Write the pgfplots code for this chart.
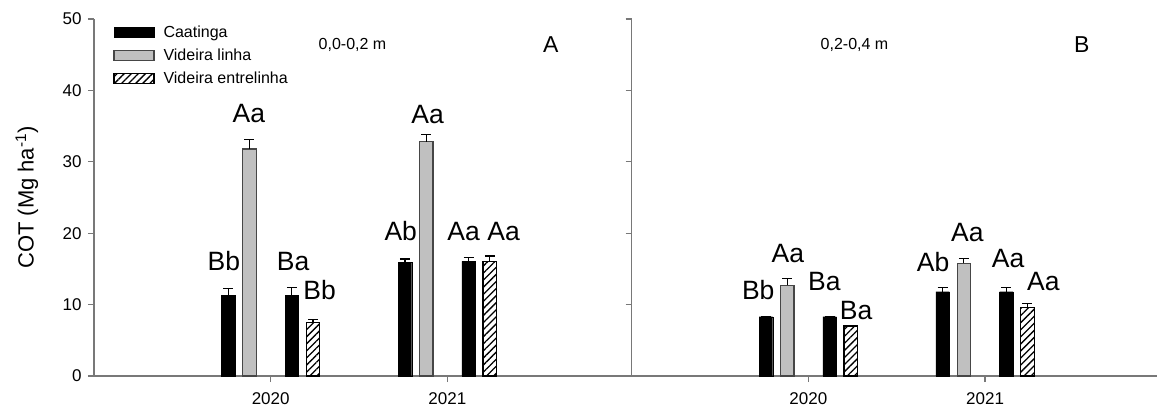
\documentclass[border=0pt]{standalone}
\usepackage{pgfplots}
\pgfplotsset{compat=1.18}
\usepackage{fontspec}
\setmainfont{Liberation Sans}
\usetikzlibrary{patterns.meta}

\definecolor{axgray}{RGB}{120,120,120}
\definecolor{barfill}{RGB}{192,192,192}
\definecolor{baredge}{RGB}{70,70,70}

\tikzset{
 lab/.style={font=\fontsize{26.5}{26.5}\selectfont, inner sep=0pt},
 txt/.style={font=\fontsize{16}{16}\selectfont, inner sep=0pt},
 plet/.style={font=\fontsize{23}{23}\selectfont, inner sep=0pt},
}

\pgfplotsset{
 panel/.style={
  scale only axis, height=357pt,
  ymin=0, ymax=50, xmin=0,
  axis lines=left, axis line style={-, axgray, line width=1.5pt},
  ytick={0,10,...,50},
  xtick={1,2}, xticklabels={2020,2021},
  tick style={axgray, line width=1.2pt},
  major tick length=6pt,
  tick align=outside,
  ticklabel style={font=\fontsize{17}{17}\selectfont},
  xticklabel style={yshift=-7pt},
  yticklabel style={xshift=-3pt},
  /pgf/number format/assume math mode=true,
  ybar, bar width=13.5pt,
  error bars/y dir=plus, error bars/y explicit,
  error bars/error bar style={black, line width=1.2pt},
  error bars/error mark options={rotate=90, mark size=5pt, black, line width=1.2pt},
  clip=false,
 },
 cat/.style={fill=black, draw=black, bar shift=0pt},
 lin/.style={fill=barfill, draw=baredge, line width=1.2pt, bar shift=0pt},
 ent/.style={fill=white, draw=black, line width=1.2pt, bar shift=0pt, postaction={pattern={Lines[angle=45,distance=5pt,line width=1.3pt]}}},
}

\begin{document}
\begin{tikzpicture}
% Panel A
\begin{axis}[panel, at={(0pt,0pt)}, anchor=south west, width=532pt, xmax=3.011,
  ylabel={COT (Mg ha\textsuperscript{-1})},
  ylabel style={at={(axis description cs:-0.126,0.5)}, anchor=center, font=\fontsize{22}{22}\selectfont},
  legend style={draw=none, fill=none, at={(0.036,0.987)}, anchor=north west,
    font=\fontsize{16}{16}\selectfont, row sep=6pt, inner sep=0pt},
  legend cell align=left,
  legend image code/.code={\draw[#1] (0pt,-5pt) rectangle (40pt,5pt); \path (47pt,0pt);},
]
\addplot[cat] coordinates {(0.76,11.3) +- (0,1.0) (1.76,15.9) +- (0,0.5)};
\addlegendentry{Caatinga}
\addplot[lin] coordinates {(0.88,31.8) +- (0,1.3) (1.88,32.8) +- (0,1.0)};
\addlegendentry{Videira linha}
\addplot[ent] coordinates {(1.24,7.45) +- (0,0.45) (2.24,16.0) +- (0,0.8)};
\addlegendentry{Videira entrelinha}
\addplot[cat, forget plot] coordinates {(1.12,11.3) +- (0,1.1) (2.12,16.05) +- (0,0.55)};
\node[lab] at (axis cs:0.735,16.1) {Bb};
\node[lab] at (axis cs:0.877,36.8) {Aa};
\node[lab] at (axis cs:1.127,16.1) {Ba};
\node[lab] at (axis cs:1.277,12.0) {Bb};
\node[lab] at (axis cs:1.736,20.3) {Ab};
\node[lab] at (axis cs:1.888,36.6) {Aa};
\node[lab] at (axis cs:2.092,20.3) {Aa};
\node[lab] at (axis cs:2.318,20.3) {Aa};
\node[txt] at (axis cs:1.463,46.4) {0,0-0,2 m};
\node[plet] at (axis cs:2.585,46.4) {A};
\end{axis}
% Panel B
\begin{axis}[panel, at={(537.7pt,0pt)}, anchor=south west, width=525.3pt, xmax=2.973,
  yticklabels={},
]
\addplot[cat] coordinates {(0.76,8.3) +- (0,0) (1.76,11.8) +- (0,0.55)};
\addplot[lin] coordinates {(0.88,12.7) +- (0,1.0) (1.88,15.8) +- (0,0.7)};
\addplot[ent] coordinates {(1.24,7.0) +- (0,0.1) (2.24,9.65) +- (0,0.45)};
\addplot[cat] coordinates {(1.12,8.3) +- (0,0) (2.12,11.8) +- (0,0.55)};
\node[lab] at (axis cs:0.716,12.0) {Bb};
\node[lab] at (axis cs:0.884,17.2) {Aa};
\node[lab] at (axis cs:1.09,13.2) {Ba};
\node[lab] at (axis cs:1.27,9.2) {Ba};
\node[lab] at (axis cs:1.706,16.0) {Ab};
\node[lab] at (axis cs:1.90,20.1) {Aa};
\node[lab] at (axis cs:2.13,16.4) {Aa};
\node[lab] at (axis cs:2.33,13.3) {Aa};
\node[txt] at (axis cs:1.261,46.3) {0,2-0,4 m};
\node[plet] at (axis cs:2.547,46.4) {B};
\end{axis}
\pgfresetboundingbox
\path[use as bounding box] (-94pt,-34pt) rectangle (1063pt,376pt);
\end{tikzpicture}
\end{document}
